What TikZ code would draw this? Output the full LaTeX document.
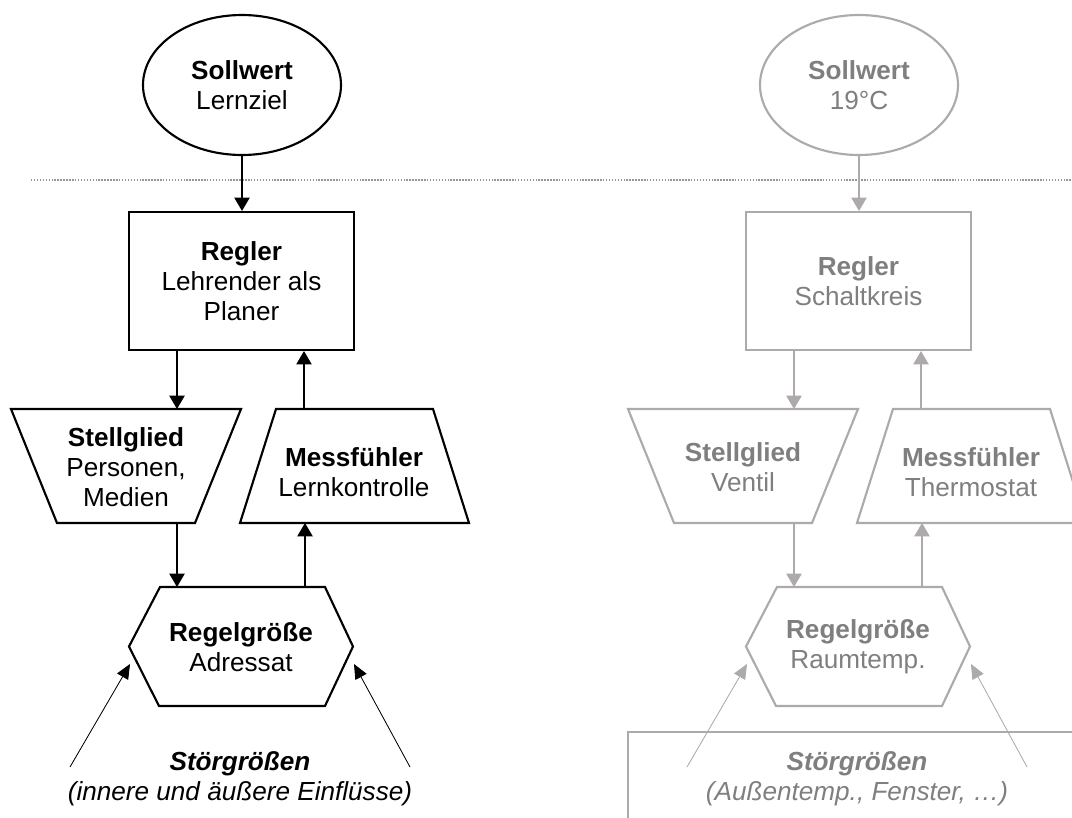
\documentclass[tikz,border=0pt]{standalone}
\usepackage{fontspec}
\setmainfont{Liberation Sans}
\usetikzlibrary{arrows.meta,shapes.geometric}
\definecolor{lgray}{RGB}{174,170,170}
\definecolor{tgray}{RGB}{127,127,127}
\definecolor{dotgray}{RGB}{150,150,150}
\tikzset{
  txt/.style={font=\fontsize{19.6}{22.5}\selectfont, align=center, inner sep=0pt},
  shp/.style={line width=1.6pt, line join=miter},
  ell/.style={ellipse, shp, minimum width=148.5pt, minimum height=105pt, txt},
  regbox/.style={rectangle, shp, minimum width=168.75pt, minimum height=103.5pt, txt},
  arr/.style={line width=0.9pt, -{Triangle[length=10pt,width=11.5pt]}},
  darr/.style={line width=0.6pt, -{Triangle[length=11pt,width=9.5pt]}},
}
\newcommand\regelkreis[8]{%
  \node[ell, draw=#1, text=#2] (soll) at (242,85) {\textbf{Sollwert}\\#3};
  \node[regbox, draw=#1, text=#2] (reg) at (241.5,281) {\textbf{Regler}\\#4};
  % Stellglied
  \coordinate (stA) at (11,409); \coordinate (stB) at (241,409);
  \coordinate (stC) at (195,523); \coordinate (stD) at (57,523);
  \draw[shp, draw=#1] (stA) -- (stB) -- (stC) -- (stD) -- cycle;
  \node[txt, text=#2] (st) at (126,467) {\textbf{Stellglied}\\#5};
  % Messfuehler
  \coordinate (mfA) at (276,409); \coordinate (mfB) at (433,409);
  \coordinate (mfC) at (469,523); \coordinate (mfD) at (240,523);
  \draw[shp, draw=#1] (mfA) -- (mfB) -- (mfC) -- (mfD) -- cycle;
  \node[txt, text=#2] (mf) at (354,472) {\textbf{Messfühler}\\#6};
  % Regelgroesse
  \coordinate (hxA) at (160,587); \coordinate (hxB) at (325,587);
  \coordinate (hxC) at (353,646.5); \coordinate (hxD) at (325,706);
  \coordinate (hxE) at (159,706); \coordinate (hxF) at (129,646.5);
  \draw[shp, draw=#1] (hxA) -- (hxB) -- (hxC) -- (hxD) -- (hxE) -- (hxF) -- cycle;
  \node[txt, text=#2] (hex) at (241,647) {\textbf{Regelgröße}\\#7};
  % Stoergroessen
  \node[txt, text=#2] (stoer) at (240,779) {\textbf{\textit{Störgrößen}}\\\textit{#8}};
  % connectors
  \coordinate (a1) at (177,409); \coordinate (a2) at (304,409);
  \coordinate (a3) at (177,523); \coordinate (a4) at (177,587);
  \coordinate (a5) at (305,587); \coordinate (a6) at (305,523);
  \coordinate (d1) at (70,767);  \coordinate (d2) at (130,664);
  \coordinate (d3) at (410,767); \coordinate (d4) at (354,664);
  \draw[arr, draw=#1, fill=#1] (soll.south) -- (soll.south |- reg.north);
  \draw[arr, draw=#1, fill=#1] (a1 |- reg.south) -- (a1);
  \draw[arr, draw=#1, fill=#1] (a2) -- (a2 |- reg.south);
  \draw[arr, draw=#1, fill=#1] (a3) -- (a4);
  \draw[arr, draw=#1, fill=#1] (a5) -- (a6);
  \draw[darr, draw=#1, fill=#1] (d1) -- (d2);
  \draw[darr, draw=#1, fill=#1] (d3) -- (d4);
}
\begin{document}
\begin{tikzpicture}[x=0.75pt,y=-0.75pt]
  \clip (0,0) rectangle (1072,818);
  \fill[white] (0,0) rectangle (1072,818);
  % separator
  \coordinate (sepL) at (31,180); \coordinate (sepR) at (1072,180);
  \draw[dotgray, line width=0.8pt, dash pattern=on 1.1pt off 1.1pt] (sepL) -- (sepR);
  % right disturbance box
  \draw[lgray, shp] (628,732) rectangle (1100,860);
  \begin{scope}
    \regelkreis{black}{black}{Lernziel}{Lehrender als\\Planer}{Personen,\\Medien}{Lernkontrolle}{Adressat}{(innere und äußere Einflüsse)}
  \end{scope}
  \begin{scope}[shift={(617,0)}, name prefix=R-]
    \regelkreis{lgray}{tgray}{19°C}{Schaltkreis}{Ventil}{Thermostat}{Raumtemp.}{(Außentemp., Fenster, …)}
  \end{scope}
\end{tikzpicture}
\end{document}
